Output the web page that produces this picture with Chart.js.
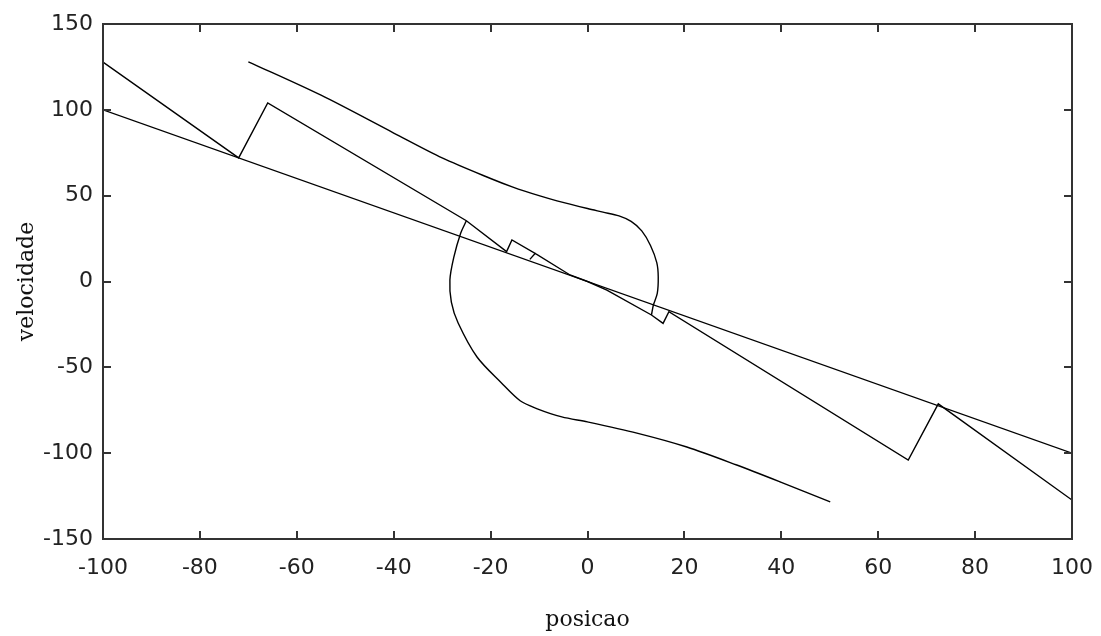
<!DOCTYPE html>
<html>
<head>
<meta charset="utf-8">
<script src="https://cdn.jsdelivr.net/npm/chart.js@4/dist/chart.umd.min.js"></script>
<style>
html,body{margin:0;padding:0;background:#fff;}
#wrap{width:1101px;height:636px;position:relative;}
</style>
</head>
<body>
<div id="wrap"><canvas id="c" width="1101" height="636"></canvas></div>
<script>
// Tick values
const xTickValues = [-100, -80, -60, -40, -20, 0, 20, 40, 60, 80, 100];
const yTickValues = [-150, -100, -50, 0, 50, 100, 150];

// Switching line
const switchX = [-100, 100];
const switchY = [100, -100];

// Trajectory from the left
const trajLeftX = [-100, -72, -66, -25, -16.7, -15.6, -10.8, -11.9, -10.8, -3.6, 0];
const trajLeftY = [127.8, 72, 104, 35.4, 17.4, 24.2, 16.4, 12.9, 16.4, 3.8, 0];

// Trajectory from the right
const trajRightX = [0, 4, 13.2, 15.6, 16.8, 66.2, 72.4, 100];
const trajRightY = [0, -5, -19.5, -24.4, -17.6, -104, -71.3, -127.3];

// Upper curve branch
const upperX = [-70, -55, -40, -30, -20, -15.4, -10, -6.3, 0, 3.2, 6.5, 9, 11.2, 13, 14.3, 14.6, 14.4, 13.6, 13.2];
const upperY = [128, 108.5, 86.5, 72, 60, 55, 50, 47, 42.5, 40.4, 38.2, 35, 29.5, 21, 11, 2.8, -6.9, -13.7, -19.5];

// Lower curve branch
const lowerX = [50.1, 40, 30.8, 20.5, 10.2, 0, -5.3, -10.5, -13.9, -17.8, -22.8, -26.7, -28.1, -28.4, -27.6, -26.2, -25];
const lowerY = [-128.4, -117, -106.9, -96.4, -88.3, -81.8, -78.9, -74, -69.5, -59, -44, -24.2, -12, 0.9, 14, 28, 35.4];

function pts(xs, ys) { return xs.map((x, i) => ({x: x, y: ys[i]})); }

const lineStyle = {showLine: true, borderColor: '#000', borderWidth: 1.4, pointRadius: 0, fill: false, tension: 0};

const frame = {
  id: 'frame',
  afterDraw(chart) {
    const ctx = chart.ctx;
    const a = chart.chartArea;
    const xs = chart.scales.x, ys = chart.scales.y;
    ctx.save();
    ctx.strokeStyle = '#333';
    ctx.lineWidth = 2;
    ctx.strokeRect(a.left, a.top, a.right - a.left, a.bottom - a.top);
    const t = 8;
    ctx.beginPath();
    xTickValues.forEach(v => {
      const p = Math.round(xs.getPixelForValue(v));
      ctx.moveTo(p, a.bottom); ctx.lineTo(p, a.bottom - t);
      ctx.moveTo(p, a.top); ctx.lineTo(p, a.top + t);
    });
    yTickValues.forEach(v => {
      const p = Math.round(ys.getPixelForValue(v));
      ctx.moveTo(a.left, p); ctx.lineTo(a.left + t, p);
      ctx.moveTo(a.right, p); ctx.lineTo(a.right - t, p);
    });
    ctx.stroke();
    ctx.restore();
  }
};

new Chart(document.getElementById('c'), {
  type: 'scatter',
  data: {
    datasets: [
      Object.assign({data: pts(switchX, switchY)}, lineStyle),
      Object.assign({data: pts(trajLeftX, trajLeftY)}, lineStyle),
      Object.assign({data: pts(trajRightX, trajRightY)}, lineStyle),
      Object.assign({data: pts(upperX, upperY)}, lineStyle, {tension: 0.3}),
      Object.assign({data: pts(lowerX, lowerY)}, lineStyle, {tension: 0.3})
    ]
  },
  options: {
    responsive: false,
    animation: false,
    devicePixelRatio: 1,
    layout: {padding: {top: 24, right: 29, left: 0, bottom: 0}},
    plugins: {legend: {display: false}, tooltip: {enabled: false}},
    scales: {
      x: {
        type: 'linear', min: -100, max: 100,
        afterBuildTicks(s) { s.ticks = xTickValues.map(v => ({value: v})); },
        afterFit(s) { s.height = 97; s.paddingLeft = 0; s.paddingRight = 0; },
        grid: {display: false, drawTicks: false},
        border: {display: false},
        ticks: {padding: 16, color: '#222', font: {family: 'DejaVu Sans', size: 22}, maxRotation: 0, autoSkip: false},
        title: {display: true, text: 'posicao', color: '#111', font: {family: 'DejaVu Serif', size: 22}, padding: {top: 0, bottom: 3}}
      },
      y: {
        type: 'linear', min: -150, max: 150,
        afterBuildTicks(s) { s.ticks = yTickValues.map(v => ({value: v})); },
        afterFit(s) { s.width = 103; s.paddingTop = 0; s.paddingBottom = 0; },
        grid: {display: false, drawTicks: false},
        border: {display: false},
        ticks: {padding: 10, color: '#222', font: {family: 'DejaVu Sans', size: 22}, autoSkip: false},
        title: {display: true, text: 'velocidade', color: '#111', font: {family: 'DejaVu Serif', size: 22}, padding: {top: 14, bottom: 0}}
      }
    }
  },
  plugins: [frame]
});
</script>
</body>
</html>
